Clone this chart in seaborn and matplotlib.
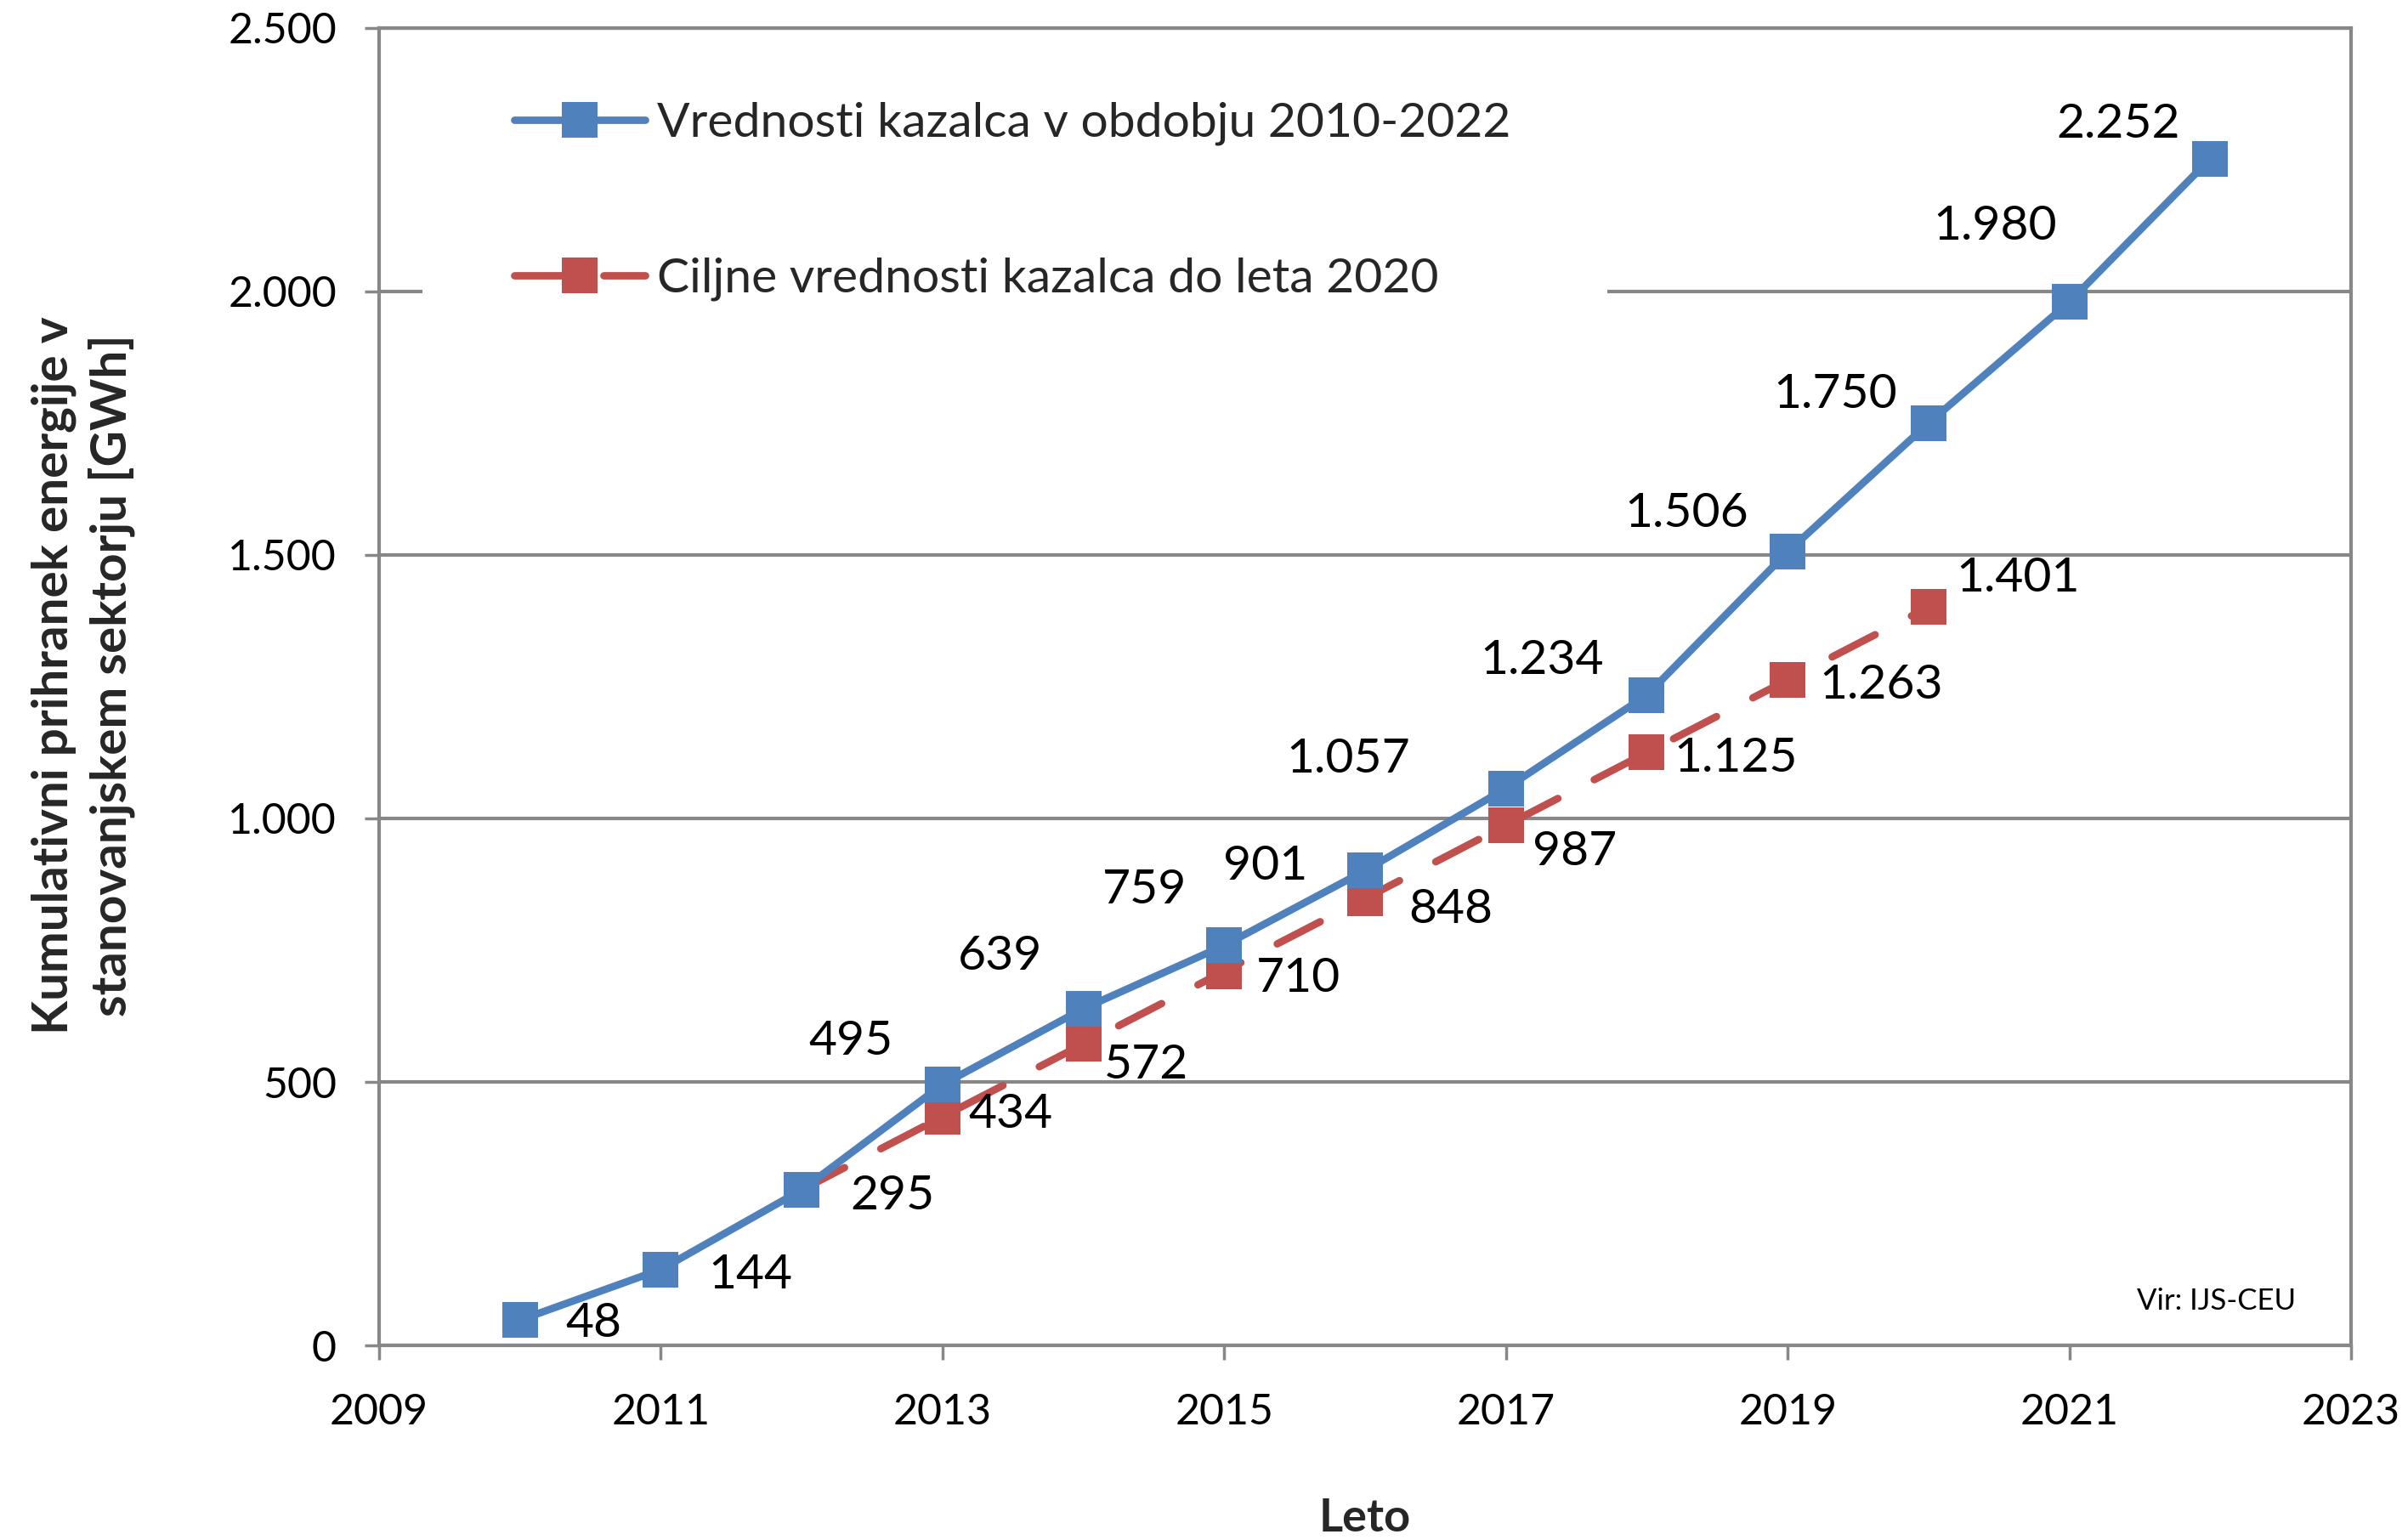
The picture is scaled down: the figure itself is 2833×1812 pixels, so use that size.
import matplotlib
matplotlib.use("Agg")
import matplotlib.pyplot as plt
import seaborn as sns
from matplotlib.patches import Rectangle
from matplotlib.transforms import IdentityTransform
from matplotlib.ticker import FuncFormatter, FixedLocator

# ---------------- data ----------------
years_actual = [2010, 2011, 2012, 2013, 2014, 2015, 2016, 2017, 2018, 2019, 2020, 2021, 2022]
values_actual = [48, 144, 295, 495, 639, 759, 901, 1057, 1234, 1506, 1750, 1980, 2252]
years_target = [2012, 2013, 2014, 2015, 2016, 2017, 2018, 2019, 2020]
values_target = [295, 434, 572, 710, 848, 987, 1125, 1263, 1401]
label_actual = "Vrednosti kazalca v obdobju 2010-2022"
label_target = "Ciljne vrednosti kazalca do leta 2020"
x_ticks = [2009, 2011, 2013, 2015, 2017, 2019, 2021, 2023]
y_ticks = [0, 500, 1000, 1500, 2000, 2500]
x_label = "Leto"
y_label = "Kumulativni prihranek energije v\nstanovanjskem sektorju [GWh]"
source_note = "Vir: IJS-CEU"

# label placement (offset of label centre from point, in pixels; layout only)
off_actual = [(87, -4), (105, -7), (107, -7), (-108, 51), (-98, 61), (-94, 65), (-117, 5),
              (-186, 34), (-123, 40), (-119, 45), (-110, 33), (-87, 89), (-108, 40)]
show_actual = [True] * 13
off_target = [(0, 0), (80, 2), (74, -25), (87, -9), (101, -13), (81, -31), (105, -7), (110, -7), (105, 34)]
show_target = [False, True, True, True, True, True, True, True, True]

BLUE = "#4F81BD"
RED = "#C0504D"
GRAY = "#878787"

sns.set_theme(style="white")
plt.rcParams['font.family'] = ['Lato', 'DejaVu Sans']

W, H = 2833, 1812
fig = plt.figure(figsize=(W / 100, H / 100), dpi=100)
L, R, T, B = 446, 2766, 33, 1583
ax = fig.add_axes([L / W, 1 - B / H, (R - L) / W, (B - T) / H])


def fmt(v, pos=None):
    return f"{int(v):,}".replace(",", ".")


sns.lineplot(x=years_target, y=values_target, ax=ax, color=RED, linewidth=6.3,
             linestyle=(0, (6.5, 5.5)), dash_capstyle="round", marker="s", markersize=30,
             markeredgewidth=0, markeredgecolor=RED, zorder=3)
line_target = ax.lines[-1]
sns.lineplot(x=years_actual, y=values_actual, ax=ax, color=BLUE, linewidth=6.3,
             marker="s", markersize=30, markeredgewidth=0, markeredgecolor=BLUE, zorder=4)
line_actual = ax.lines[-1]

ax.set_xlim(2009, 2023)
ax.set_ylim(0, 2500)
ax.xaxis.set_major_locator(FixedLocator(x_ticks))
ax.yaxis.set_major_locator(FixedLocator(y_ticks))
ax.yaxis.set_major_formatter(FuncFormatter(fmt))
ax.xaxis.set_major_formatter(FuncFormatter(lambda v, p: f"{int(v)}"))

ax.set_axisbelow(True)
ax.yaxis.grid(True, color=GRAY, linewidth=3)
ax.xaxis.grid(False)
for s in ax.spines.values():
    s.set_color(GRAY)
    s.set_linewidth(3)
ax.tick_params(axis="both", which="major", bottom=True, left=True, direction="out",
               length=12, width=2.5, color=GRAY, labelsize=36, labelcolor="black")
ax.tick_params(axis="x", pad=28)
ax.tick_params(axis="y", pad=24)

# labels
for x, y, (dx, dy), show in zip(years_actual, values_actual, off_actual, show_actual):
    if show:
        ax.annotate(fmt(y), (x, y), xytext=(dx, dy), textcoords="offset pixels",
                    ha="center", va="center", fontsize=41, color="black", zorder=6)
for x, y, (dx, dy), show in zip(years_target, values_target, off_target, show_target):
    if show:
        ax.annotate(fmt(y), (x, y), xytext=(dx, dy), textcoords="offset pixels",
                    ha="center", va="center", fontsize=41, color="black", zorder=6)

ax.set_xlabel(x_label, fontsize=39, fontweight="bold", va="center")
ax.xaxis.set_label_coords(0.5, -(1787 - B) / (B - T))
ax.set_ylabel(y_label, fontsize=42, fontweight="bold", va="center", ha="center",
              linespacing=1.3, multialignment="center")
ax.yaxis.set_label_coords((98 - L) / (R - L), (B - 795) / (B - T))

ax.text((2701 - L) / (R - L), (B - 1531) / (B - T), source_note, transform=ax.transAxes,
        ha="right", va="center", fontsize=25, color="black")

leg = ax.legend(handles=[line_actual, line_target], labels=[label_actual, label_target],
                loc="upper left", bbox_to_anchor=((605 - L) / (R - L), 1 - (120 - T) / (B - T)),
                frameon=False, fontsize=41, borderpad=0, borderaxespad=0,
                handlelength=2.7, handletextpad=0.25, labelspacing=2.3, numpoints=1)
leg.set_zorder(7)

fig.canvas.draw()
bb = leg.get_window_extent(fig.canvas.get_renderer())
rect = Rectangle((bb.x0 - 108, bb.y0 - 45), bb.width + 108 + 114, bb.height + 45 + 55,
                 transform=IdentityTransform(), facecolor="white", edgecolor="none", zorder=1)
ax.add_patch(rect)
ax.set_xlim(2009, 2023)
ax.set_ylim(0, 2500)

fig.savefig("out.png", dpi=100, facecolor="white")
